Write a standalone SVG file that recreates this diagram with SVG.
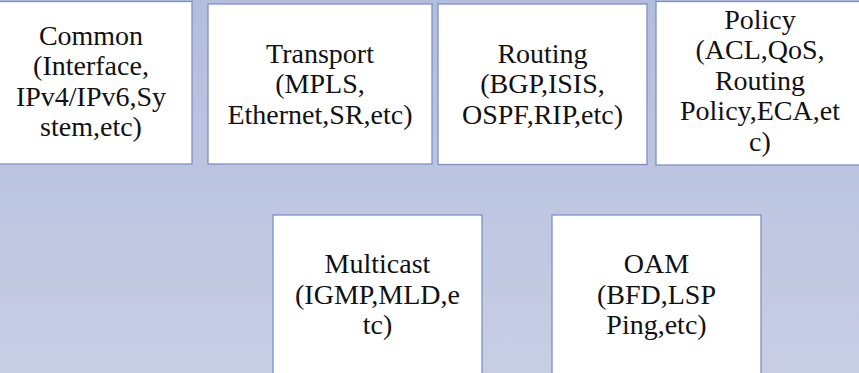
<svg xmlns="http://www.w3.org/2000/svg" width="859" height="373" viewBox="0 0 859 373">
<defs>
<linearGradient id="bg" x1="0" y1="0" x2="0" y2="1">
<stop offset="0" stop-color="#b3bddd"/>
<stop offset="1" stop-color="#c7cee4"/>
</linearGradient>
</defs>
<style>
.box{fill:#ffffff;stroke:#7f8fc6;stroke-width:1.3}
.t{font-family:"Liberation Serif","Times New Roman",serif;font-size:28px;fill:#111111;text-anchor:middle}
</style>
<rect x="0" y="0" width="859" height="373" fill="url(#bg)"/>
<g id="common">
<rect class="box" x="-10" y="1.5" width="202" height="162.5"/>
<text class="t"><tspan x="91" y="44.5">Common</tspan><tspan x="91" y="75">(Interface,</tspan><tspan x="91" y="105.5">IPv4/IPv6,Sy</tspan><tspan x="91" y="136">stem,etc)</tspan></text>
</g>
<g id="transport">
<rect class="box" x="208" y="4" width="224" height="160"/>
<text class="t"><tspan x="320" y="62.5">Transport</tspan><tspan x="320" y="93">(MPLS,</tspan><tspan x="320" y="123.5">Ethernet,SR,etc)</tspan></text>
</g>
<g id="routing">
<rect class="box" x="438" y="4" width="209" height="160.5"/>
<text class="t"><tspan x="542.5" y="62.5">Routing</tspan><tspan x="542.5" y="93">(BGP,ISIS,</tspan><tspan x="542.5" y="123.5">OSPF,RIP,etc)</tspan></text>
</g>
<g id="policy">
<rect class="box" x="656" y="1.5" width="209" height="163.5"/>
<text class="t"><tspan x="760" y="28.5">Policy</tspan><tspan x="760" y="59">(ACL,QoS,</tspan><tspan x="760" y="89.5">Routing</tspan><tspan x="760" y="120">Policy,ECA,et</tspan><tspan x="760" y="150.5">c)</tspan></text>
</g>
<g id="multicast">
<rect class="box" x="273" y="215" width="209" height="170"/>
<text class="t"><tspan x="377.5" y="273">Multicast</tspan><tspan x="377.5" y="303.5">(IGMP,MLD,e</tspan><tspan x="377.5" y="334">tc)</tspan></text>
</g>
<g id="oam">
<rect class="box" x="552" y="215" width="209" height="170"/>
<text class="t"><tspan x="656.5" y="273">OAM</tspan><tspan x="656.5" y="303.5">(BFD,LSP</tspan><tspan x="656.5" y="334">Ping,etc)</tspan></text>
</g>
<g id="connectors"></g>
</svg>
